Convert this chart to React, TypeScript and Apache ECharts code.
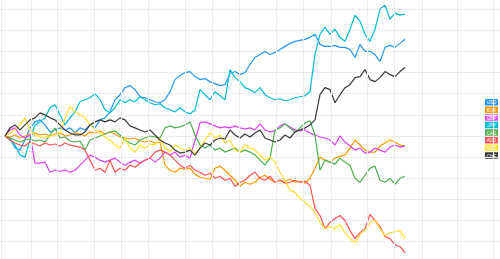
import { useEffect, useRef } from "react";
import * as echarts from "echarts";

const currencies = ["USD", "EUR", "GBP", "JPY", "CAD", "AUD", "NZD", "CHF"];
const colors = ["#2196F3", "#FF9800", "#E040FB", "#00BCD4", "#4CAF50", "#FF5252", "#FFE030", "#383838"];

// one observation every 5 days
const dayStep = 5;

const usd = [0,-2,-12,-14,-4,8,14,16,11,4,6,8,6,8,3,8,6,11,8,16,18,24,36,41,48,50,46,39,38,36,34,33,36,44,56,60,63,64,59,56,57,54,52,50,51,62,64,61,63,71,78,81,84,81,83,86,89,92,94,95,96,98,101,91,89,89,90,88,88,86,78,91,84,84,81,74,88,90,88,92,96];
const eur = [0,-1,1,-2,0,2,3,1,2,0,2,3,0,1,3,2,0,4,3,5,2,4,2,-1,-2,-3,-2,-5,-6,-5,-7,-6,-29,-34,-36,-32,-33,-32,-38,-41,-42,-43,-32,-30,-34,-39,-44,-50,-46,-48,-46,-41,-39,-43,-46,-44,-45,-43,-46,-45,-47,-42,-32,-21,-24,-26,-22,-20,-19,-12,-4,-9,-14,-16,-16,-10,-7,-4,-6,-9,-10];
const gbp = [0,6,8,1,-2,1,-27,-27,-26,-36,-34,-35,-34,-36,-34,-29,-24,-19,-21,-24,-26,-24,-22,-26,-29,-26,-24,-27,-24,-22,-26,-22,-16,-19,-16,-21,-19,-22,-4,13,14,12,10,8,9,8,10,8,7,8,6,12,6,4,5,10,12,9,6,5,6,3,1,-1,-2,-4,-9,0,-6,-10,-14,-12,-17,-16,-12,-14,-16,-11,-9,-11,-10];
const jpy = [0,-4,-9,-19,-21,-4,11,14,18,28,31,21,11,18,24,34,36,38,42,36,26,23,28,36,33,36,34,39,36,33,31,32,28,26,24,28,24,22,26,46,41,36,44,40,36,66,58,54,48,46,43,48,41,38,36,37,35,36,38,39,40,44,81,101,108,101,106,98,94,106,120,114,101,94,106,126,130,116,122,120,121];
const cad = [0,-2,-4,-6,-4,-3,-5,-4,-6,1,8,-2,-1,-5,-6,-5,-14,-4,-2,0,2,4,5,1,-4,-7,-9,-4,-2,0,-1,-2,8,10,8,9,11,14,1,-9,-12,-9,-14,-12,-16,-14,-12,-16,-14,-16,-19,-24,-29,-22,6,8,12,8,4,8,13,15,1,-34,-24,-26,-28,-22,-26,-29,-42,-46,-39,-32,-30,-44,-46,-42,-48,-42,-40];
const aud = [0,-4,-7,-9,-10,-6,-8,-10,-7,-9,-8,-10,-7,-9,-10,-11,-14,-24,-34,-32,-36,-24,-36,-32,-34,-29,-31,-27,-24,-22,-16,-14,-16,-19,-24,-29,-32,-29,-34,-36,-39,-37,-42,-40,-44,-42,-50,-46,-44,-39,-36,-42,-44,-40,-46,-44,-47,-46,-44,-46,-45,-49,-72,-79,-92,-86,-82,-79,-84,-94,-102,-96,-92,-78,-84,-90,-100,-102,-108,-110,-116];
const nzd = [0,3,6,11,18,6,1,-1,-2,0,1,2,18,29,24,21,18,11,6,3,-1,-4,-9,-12,-2,-12,-16,-9,-12,-8,-9,-2,-12,-16,-9,-12,-14,-12,-17,-12,-4,3,-2,1,-7,-4,-14,-16,-9,-12,-14,-19,-24,-21,-26,-36,-44,-54,-56,-62,-66,-70,-76,-86,-92,-90,-92,-88,-96,-102,-106,-98,-94,-86,-84,-92,-99,-96,-95,-94,-102];
const chf = [0,8,11,6,11,16,18,23,21,18,16,11,6,3,1,1,4,11,14,16,14,16,14,18,16,10,8,6,4,6,1,-4,-7,-9,-14,-17,-16,-14,-19,-12,-7,-9,-4,-2,-3,6,1,-2,2,-1,3,6,-2,-4,-6,-4,1,-2,4,6,8,11,16,41,48,46,33,41,48,51,58,59,66,56,54,58,64,61,59,64,68];

const seriesValues = [usd, eur, gbp, jpy, cad, aud, nzd, chf];

// vertical grid lines (in days)
const xGridDays = [-4, 26, 52, 89, 116, 143, 180, 207, 234, 271, 298, 326, 362, 389, 417, 452, 488];

const CHART_OFFSET = 11.64;

export default function App() {
  const ref = useRef<HTMLDivElement>(null);
  useEffect(() => {
    const chart = echarts.init(ref.current!, null, { renderer: "svg" });
    const series: any[] = [
      {
        name: "_grid",
        type: "line",
        data: [],
        z: 1,
        silent: true,
        markLine: {
          silent: true,
          symbol: "none",
          label: { show: false },
          lineStyle: { color: "#ececec", type: "solid", width: 1 },
          data: xGridDays.map((d) => ({ xAxis: d })),
        },
      },
    ];
    currencies.forEach((c, i) => {
      series.push({
        name: c,
        type: "line",
        data: seriesValues[i].map((v, k) => [k * dayStep, v]),
        showSymbol: false,
        symbol: "none",
        silent: true,
        z: 2,
        lineStyle: { width: 1.2, color: colors[i] },
        itemStyle: { color: colors[i] },
      });
    });
    const legendItems = currencies.map((c, i) => ({
      type: "group",
      x: 485,
      y: CHART_OFFSET + 99.3 + i * 7.6,
      silent: true,
      children: [
        { type: "rect", shape: { x: 0, y: 0, width: 13, height: 6.5, r: 0.5 }, style: { fill: colors[i] } },
        {
          type: "text",
          x: 6.5,
          y: 3.4,
          style: {
            text: c,
            fill: "#ffffff",
            fontSize: 5,
            fontFamily: "Roboto, sans-serif",
            align: "center",
            verticalAlign: "middle",
          },
        },
      ],
    }));
    chart.setOption({
      animation: false,
      backgroundColor: "#ffffff",
      grid: { left: 0, right: 0, top: 0, bottom: 15.18 },
      xAxis: {
        type: "value",
        min: -5,
        max: 495,
        axisLine: { show: false },
        axisTick: { show: false },
        axisLabel: { show: false },
        splitLine: { show: false },
      },
      yAxis: {
        type: "value",
        min: -126,
        max: 147,
        interval: 21,
        axisLine: { show: false },
        axisTick: { show: false },
        axisLabel: { show: false },
        splitLine: { show: true, lineStyle: { color: "#ececec", width: 1 } },
      },
      graphic: legendItems,
      series,
    });
    return () => chart.dispose();
  }, []);
  return (
    <div style={{ position: "fixed", left: 0, top: 0, width: 500, height: 259, overflow: "hidden", background: "#fff" }}>
      <div ref={ref} style={{ position: "absolute", left: 0, top: -CHART_OFFSET, width: 500, height: 290 }} />
    </div>
  );
}
